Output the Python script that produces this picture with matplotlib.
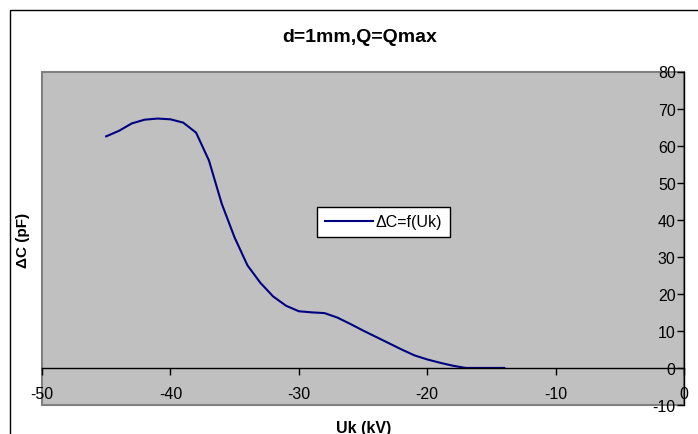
import matplotlib
matplotlib.use("Agg")
import matplotlib.pyplot as plt
from matplotlib.patches import Rectangle

plt.rcParams['font.family'] = ['Liberation Sans', 'DejaVu Sans']
plt.rcParams['axes.unicode_minus'] = False

# data
uk = [-45, -44, -43, -42, -41, -40, -39, -38, -37, -36, -35, -34, -33, -32,
      -31, -30, -29, -28, -27, -26, -25, -24, -23, -22, -21, -20, -19, -18,
      -17, -16, -15, -14]
dc = [62.5, 64.0, 66.0, 67.0, 67.3, 67.1, 66.2, 63.5, 56.0, 44.3, 35.2, 27.7,
      23.0, 19.3, 16.8, 15.3, 15.0, 14.8, 13.6, 11.9, 10.1, 8.4, 6.7, 5.0,
      3.4, 2.3, 1.4, 0.6, 0.0, 0.0, 0.0, 0.0]
xticks = [-50, -40, -30, -20, -10, 0]
yticks = [-10, 0, 10, 20, 30, 40, 50, 60, 70, 80]

W, H = 698, 435
fig = plt.figure(figsize=(W / 100, H / 100), dpi=100)
fig.patch.set_facecolor('white')

# outer chart frame (cut off at right/bottom)
fig.patches.append(Rectangle((10 / W, -0.2), 1.2, 1.2 - 10.5 / H,
                             transform=fig.transFigure, fill=False,
                             edgecolor='black', linewidth=1.0))

ax = fig.add_axes([42 / W, (H - 406) / H, (684 - 42) / W, (406 - 72.5) / H])
ax.set_facecolor('#C0C0C0')
ax.add_patch(Rectangle((0, 0), 1, 1, transform=ax.transAxes, fill=False,
                       edgecolor='#808080', linewidth=1.5, clip_on=False, zorder=0.5))

ax.plot(uk, dc, color='#000080', linewidth=1.5, label='ΔC=f(Uk)')

ax.set_xlim(-50, 0)
ax.set_ylim(-10, 80)
ax.set_xticks(xticks)
ax.set_yticks(yticks)

ax.spines['top'].set_visible(False)
ax.spines['right'].set_visible(False)
ax.spines['left'].set_position(('data', 0))
ax.spines['bottom'].set_position(('data', 0))
ax.spines['left'].set_linewidth(1.0)
ax.spines['bottom'].set_linewidth(1.0)

ax.tick_params(axis='x', direction='out', length=5, width=1, pad=8, labelsize=11.5)
ax.tick_params(axis='y', direction='out', length=5, width=1, pad=1, labelsize=11.5)

leg = ax.legend(loc='upper left', bbox_to_anchor=(317 / W, 1 - 207.5 / H),
                bbox_transform=fig.transFigure, borderaxespad=0, fancybox=False,
                framealpha=1, edgecolor='black', fontsize=11.5, handlelength=3.0,
                handletextpad=0.15, borderpad=0.5)
leg.get_frame().set_linewidth(1.0)

fig.text(360 / W, 1 - 38 / H, 'd=1mm,Q=Qmax', ha='center', va='center',
         fontsize=14, fontweight='bold')
fig.text(364 / W, 1 - 429 / H, 'Uk (kV)', ha='center', va='center',
         fontsize=11.5, fontweight='bold')
fig.text(23 / W, 1 - 240 / H, 'ΔC (pF)', ha='center', va='center',
         rotation=90, fontsize=11, fontweight='bold')

fig.savefig('out.png', dpi=100)
